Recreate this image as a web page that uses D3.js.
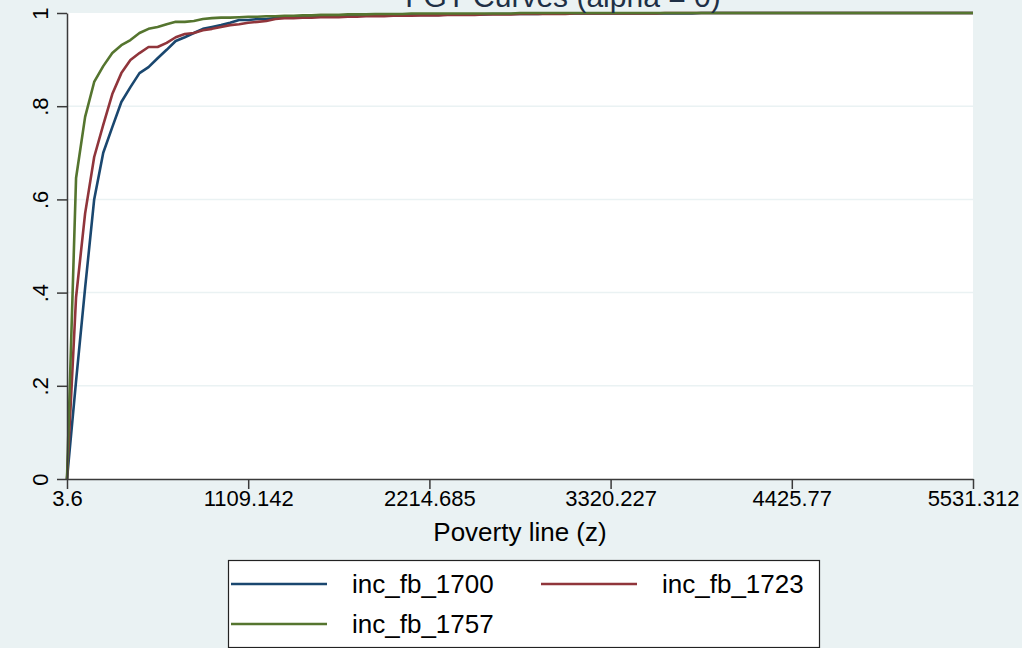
<!DOCTYPE html>
<html>
<head>
<meta charset="utf-8">
<script src="https://cdn.jsdelivr.net/npm/d3@7"></script>
<style>
  body { margin: 0; background: #eaf2f3; }
  svg { display: block; font-family: "Liberation Sans", Arial, sans-serif; }
</style>
</head>
<body>
<div id="chart"></div>
<script>
const SVG_WIDTH = 1022;
const SVG_HEIGHT = 648;
const MARGIN = { top: 13, right: 49, bottom: 169, left: 67 };
const WIDTH = SVG_WIDTH - MARGIN.left - MARGIN.right;
const HEIGHT = SVG_HEIGHT - MARGIN.top - MARGIN.bottom;

const TITLE = "FGT Curves (alpha = 0)";
const X_AXIS_LABEL = "Poverty line (z)";

const X_TICKS = [3.6, 1109.142, 2214.685, 3320.227, 4425.77, 5531.312];
const Y_TICKS = [0, 0.2, 0.4, 0.6, 0.8, 1];
const Y_TICK_LABELS = ["0", ".2", ".4", ".6", ".8", "1"];

const SERIES_NAMES = ["inc_fb_1700", "inc_fb_1723", "inc_fb_1757"];
const SERIES_COLORS = ["#1a476f", "#90353b", "#55752f"];

// headcount at each of the 101 poverty lines between 3.6 and 5531.312
const INC_FB_1700 = [
  0, 0.21, 0.41, 0.60, 0.70, 0.755, 0.809, 0.841, 0.871, 0.884,
  0.903, 0.921, 0.940, 0.948, 0.957, 0.966, 0.970, 0.974, 0.979, 0.985,
  0.985, 0.987, 0.987, 0.989, 0.991, 0.991, 0.992, 0.992, 0.992, 0.993,
  0.993, 0.993, 0.994, 0.994, 0.994, 0.995, 0.995, 0.995, 0.996, 0.996,
  0.996, 0.996, 0.997, 0.997, 0.997, 0.997, 0.997, 0.998, 0.998, 0.998,
  0.998, 0.998, 0.998, 0.999, 0.999, 0.999, 0.999, 0.999, 0.999, 0.999,
  0.999, 0.999, 0.999, 0.999, 0.999, 0.999, 0.999, 0.999, 0.999, 0.999,
  1, 1, 1, 1, 1, 1, 1, 1, 1, 1,
  1, 1, 1, 1, 1, 1, 1, 1, 1, 1,
  1, 1, 1, 1, 1, 1, 1, 1, 1, 1,
  1
];
const INC_FB_1723 = [
  0, 0.39, 0.57, 0.691, 0.760, 0.826, 0.871, 0.899, 0.914, 0.927,
  0.927, 0.936, 0.948, 0.955, 0.957, 0.963, 0.966, 0.970, 0.974, 0.976,
  0.979, 0.981, 0.983, 0.987, 0.989, 0.989, 0.990, 0.990, 0.991, 0.991,
  0.991, 0.992, 0.992, 0.993, 0.993, 0.993, 0.994, 0.994, 0.994, 0.995,
  0.995, 0.995, 0.996, 0.996, 0.996, 0.996, 0.997, 0.997, 0.997, 0.997,
  0.998, 0.998, 0.998, 0.998, 0.998, 0.998, 0.999, 0.999, 0.999, 0.999,
  0.999, 0.999, 0.999, 0.999, 0.999, 0.999, 1, 1, 1, 1,
  1, 1, 1, 1, 1, 1, 1, 1, 1, 1,
  1, 1, 1, 1, 1, 1, 1, 1, 1, 1,
  1, 1, 1, 1, 1, 1, 1, 1, 1, 1,
  1
];
const INC_FB_1757 = [
  0, 0.646, 0.777, 0.852, 0.886, 0.914, 0.931, 0.942, 0.957, 0.966,
  0.970, 0.976, 0.981, 0.981, 0.983, 0.987, 0.989, 0.990, 0.990, 0.991,
  0.992, 0.992, 0.993, 0.993, 0.994, 0.994, 0.995, 0.995, 0.996, 0.996,
  0.996, 0.997, 0.997, 0.997, 0.998, 0.998, 0.998, 0.998, 0.999, 0.999,
  0.999, 0.999, 0.999, 0.999, 0.999, 0.999, 0.999, 0.999, 0.999, 0.999,
  1, 1, 1, 1, 1, 1, 1, 1, 1, 1,
  1, 1, 1, 1, 1, 1, 1, 1, 1, 1,
  1, 1, 1, 1, 1, 1, 1, 1, 1, 1,
  1, 1, 1, 1, 1, 1, 1, 1, 1, 1,
  1, 1, 1, 1, 1, 1, 1, 1, 1, 1,
  1
];
const SERIES_VALUES = [INC_FB_1700, INC_FB_1723, INC_FB_1757];

const X_MIN = X_TICKS[0];
const X_MAX = X_TICKS[X_TICKS.length - 1];
const STEP = (X_MAX - X_MIN) / (INC_FB_1700.length - 1);
const POVERTY_LINES = INC_FB_1700.map((_, i) => X_MIN + i * STEP);

const svg = d3.select("#chart")
    .append("svg")
    .attr("width", SVG_WIDTH)
    .attr("height", SVG_HEIGHT);

svg.append("rect")
    .attr("width", SVG_WIDTH)
    .attr("height", SVG_HEIGHT)
    .attr("fill", "#eaf2f3");

const g = svg.append("g")
    .attr("transform", `translate(${MARGIN.left},${MARGIN.top})`);

const xScale = d3.scaleLinear().domain([X_MIN, X_MAX]).range([0, WIDTH]);
const yScale = d3.scaleLinear().domain([0, 1]).range([HEIGHT, 0]);

g.append("rect")
    .attr("width", WIDTH)
    .attr("height", HEIGHT)
    .attr("fill", "#ffffff");

g.append("g")
    .selectAll("line")
    .data(Y_TICKS.slice(1, -1))
    .join("line")
    .attr("x1", 0)
    .attr("x2", WIDTH)
    .attr("y1", d => yScale(d))
    .attr("y2", d => yScale(d))
    .attr("stroke", "#eaf2f3")
    .attr("stroke-width", 1.5);

// title sits mostly above the top edge, as in the original export
svg.append("text")
    .attr("x", 563)
    .attr("y", 7)
    .attr("text-anchor", "middle")
    .attr("font-size", 30)
    .attr("fill", "#1e3046")
    .text(TITLE);

const line = d3.line()
    .x((d, i) => xScale(POVERTY_LINES[i]))
    .y(d => yScale(d));

g.append("g")
    .selectAll("path")
    .data(SERIES_VALUES)
    .join("path")
    .attr("d", d => line(d))
    .attr("fill", "none")
    .attr("stroke", (d, i) => SERIES_COLORS[i])
    .attr("stroke-width", 2.6)
    .attr("stroke-linejoin", "round");

const xAxis = g.append("g")
    .attr("transform", `translate(0,${HEIGHT})`)
    .call(d3.axisBottom(xScale)
        .tickValues(X_TICKS)
        .tickFormat(d => String(d))
        .tickSize(10)
        .tickSizeOuter(0)
        .tickPadding(1));

const yAxis = g.append("g")
    .call(d3.axisLeft(yScale)
        .tickValues(Y_TICKS)
        .tickFormat((d, i) => Y_TICK_LABELS[i])
        .tickSize(10)
        .tickSizeOuter(0));

yAxis.selectAll(".tick text")
    .attr("transform", "rotate(-90)")
    .attr("x", 0)
    .attr("y", -19)
    .attr("dy", 0)
    .attr("text-anchor", "middle");

[xAxis, yAxis].forEach(ax => {
    ax.attr("font-family", null).attr("font-size", null);
    ax.select(".domain").attr("stroke", "#3a3a3a").attr("stroke-width", 1.5);
    ax.selectAll(".tick line").attr("stroke", "#3a3a3a").attr("stroke-width", 1.5);
    ax.selectAll(".tick text").attr("fill", "#000").attr("font-size", 22);
});

g.append("text")
    .attr("x", WIDTH / 2)
    .attr("y", 541 - MARGIN.top)
    .attr("text-anchor", "middle")
    .attr("font-size", 26)
    .attr("fill", "#000")
    .text(X_AXIS_LABEL);

const legend = svg.append("g")
    .attr("transform", "translate(228,560)");

legend.append("rect")
    .attr("x", 0.5)
    .attr("y", 0.5)
    .attr("width", 591)
    .attr("height", 87)
    .attr("fill", "#ffffff")
    .attr("stroke", "#222")
    .attr("stroke-width", 1.2);

const LEGEND_POS = [[0, 0], [310, 0], [0, 40]];

legend.selectAll(".legend-item")
    .data(SERIES_NAMES)
    .join("g")
    .attr("class", "legend-item")
    .attr("transform", (d, i) => `translate(${LEGEND_POS[i][0]},${LEGEND_POS[i][1] + 24})`)
    .each(function(d, i) {
        d3.select(this).append("line")
            .attr("x1", 3)
            .attr("x2", 99)
            .attr("stroke", SERIES_COLORS[i])
            .attr("stroke-width", 2.6);
        d3.select(this).append("text")
            .attr("x", 124)
            .attr("y", 9)
            .attr("font-size", 26)
            .attr("fill", "#000")
            .text(d);
    });
</script>
</body>
</html>
